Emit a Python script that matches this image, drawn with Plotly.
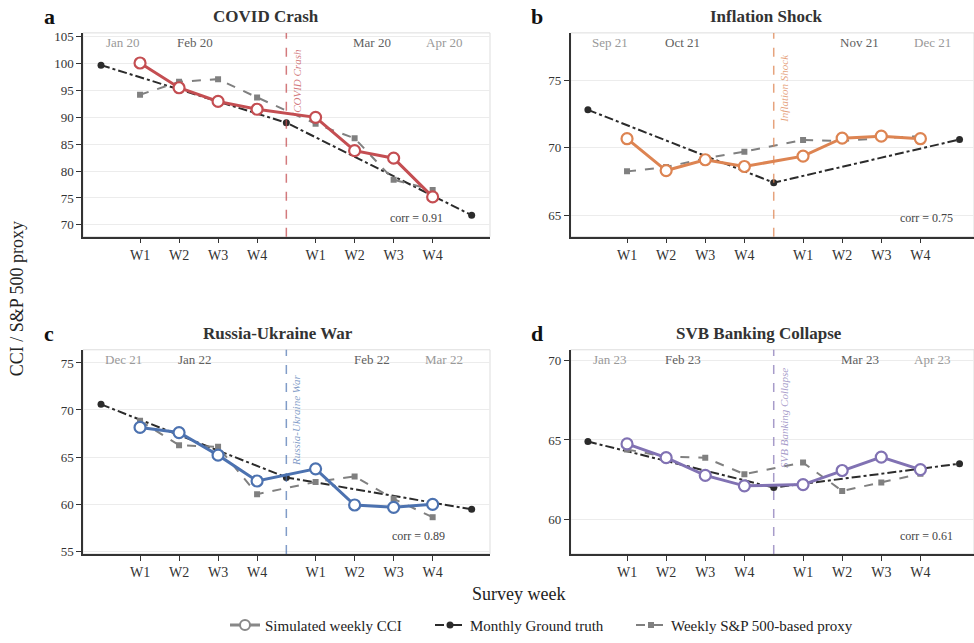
import plotly.graph_objects as go

# ---------------- data ----------------
panel_letters = ["a", "b", "c", "d"]
panel_titles = ["COVID Crash", "Inflation Shock", "Russia-Ukraine War", "SVB Banking Collapse"]
event_labels = ["COVID Crash", "Inflation Shock", "Russia-Ukraine War", "SVB Banking Collapse"]
corr_labels = ["corr = 0.91", "corr = 0.75", "corr = 0.89", "corr = 0.61"]

week_ticktext = ["W1", "W2", "W3", "W4", "W1", "W2", "W3", "W4"]
week_pos = [1, 2, 3, 4, 5.5, 6.5, 7.5, 8.5]
month_pos = [0, 4.75, 9.5]

month_labels_a = ["Jan 20", "Feb 20", "Mar 20", "Apr 20"]
month_labels_b = ["Sep 21", "Oct 21", "Nov 21", "Dec 21"]
month_labels_c = ["Dec 21", "Jan 22", "Feb 22", "Mar 22"]
month_labels_d = ["Jan 23", "Feb 23", "Mar 23", "Apr 23"]

cci_a = [100.1, 95.5, 92.95, 91.5, 90.0, 83.8, 82.4, 75.2]
truth_a = [99.7, 89.0, 71.8]
proxy_a = [94.2, 96.6, 97.1, 93.7, 88.8, 86.1, 78.4, 76.5]

cci_b = [70.66, 68.3, 69.1, 68.6, 69.37, 70.7, 70.85, 70.66]
truth_b = [72.8, 67.4, 70.6]
proxy_b = [68.24, 68.56, 69.2, 69.7, 70.56, 70.5, 70.7, 70.85]

cci_c = [68.15, 67.6, 65.2, 62.45, 63.74, 59.9, 59.65, 59.97]
truth_c = [70.6, 62.83, 59.44]
proxy_c = [68.85, 66.26, 66.08, 61.05, 62.35, 62.94, 60.56, 58.6]

cci_d = [64.75, 63.88, 62.76, 62.1, 62.18, 63.07, 63.92, 63.13]
truth_d = [64.9, 61.99, 63.5]
proxy_d = [64.4, 63.94, 63.88, 62.84, 63.57, 61.78, 62.32, 62.86]

legend_names = ["Simulated weekly CCI", "Monthly Ground truth", "Weekly S&P 500-based proxy"]

# ---------------- style ----------------
FONT = "Liberation Serif"
colors = ["#C44E52", "#DD8452", "#4C72B0", "#8172B3"]
event_colors = ["rgba(196,78,82,0.75)", "rgba(221,132,82,0.75)", "rgba(76,114,176,0.7)", "rgba(129,114,179,0.7)"]
TRUTH_C = "#2b2b2b"
PROXY_C = "#808080"

OFF = 0  # body margin removed below
W, H = 974, 643


def px(p):
    return (p - OFF) / W


def py(p):
    return 1 - (p - OFF) / H


xdom_left = [px(83), px(490)]
xdom_right = [px(570.7), 1.0]
ydom_top = [py(236), py(29.3)]
ydom_bot = [py(557.7), py(350.7)]

panels = [
    dict(cci=cci_a, truth=truth_a, proxy=proxy_a, months=month_labels_a,
         xd=xdom_left, yd=ydom_top, xr=[-0.462, 9.97], yr=[67.8, 105.7], yt=[70, 75, 80, 85, 90, 95, 100, 105]),
    dict(cci=cci_b, truth=truth_b, proxy=proxy_b, months=month_labels_b,
         xd=xdom_right, yd=ydom_top, xr=[-0.44, 9.87], yr=[63.4, 78.5], yt=[65, 70, 75]),
    dict(cci=cci_c, truth=truth_c, proxy=proxy_c, months=month_labels_c,
         xd=xdom_left, yd=ydom_bot, xr=[-0.462, 9.97], yr=[54.7, 76.4], yt=[55, 60, 65, 70, 75]),
    dict(cci=cci_d, truth=truth_d, proxy=proxy_d, months=month_labels_d,
         xd=xdom_right, yd=ydom_bot, xr=[-0.44, 9.87], yr=[57.8, 70.7], yt=[60, 65, 70]),
]
month_label_pos = [0.57, 2.42, 6.95, 8.8]
month_label_colors = ["#999999", "#606060", "#606060", "#999999"]
event_text_top = [0.93, 0.905, 0.887, 0.921]
corr_x = [8.82, 9.39, 8.86, 9.39]
title_px = [266, 766, 277.5, 759]
title_py = [13, 13, 334, 334]
letter_px = [49, 537, 49, 537]
letter_py = [13, 13, 334, 334]

fig = go.Figure()
annotations = []
shapes = []

for i, p in enumerate(panels):
    sfx = "" if i == 0 else str(i + 1)
    xa, ya = "x" + sfx, "y" + sfx
    fig.add_trace(go.Scatter(x=month_pos, y=p["truth"], xaxis=xa, yaxis=ya, mode="lines+markers",
                             line=dict(color=TRUTH_C, width=2, dash="dashdot"),
                             marker=dict(color=TRUTH_C, size=7), showlegend=False, hoverinfo="skip",
                             cliponaxis=False))
    fig.add_trace(go.Scatter(x=week_pos, y=p["proxy"], xaxis=xa, yaxis=ya, mode="lines+markers",
                             line=dict(color=PROXY_C, width=2, dash="dash"),
                             marker=dict(color=PROXY_C, size=6, symbol="square"), showlegend=False, hoverinfo="skip"))
    fig.add_trace(go.Scatter(x=week_pos, y=p["cci"], xaxis=xa, yaxis=ya, mode="lines+markers",
                             line=dict(color=colors[i], width=3),
                             marker=dict(color="white", size=11, line=dict(color=colors[i], width=2.2)),
                             showlegend=False, hoverinfo="skip"))

    xkey = "xaxis" + sfx
    ykey = "yaxis" + sfx
    fig.update_layout(**{
        xkey: dict(domain=p["xd"], range=p["xr"], anchor=ya, tickvals=week_pos, ticktext=week_ticktext,
                   showgrid=False, zeroline=False, showline=True, linecolor="#333", linewidth=1.5,
                   ticks="outside", ticklen=5, tickcolor="#333", tickwidth=1.2,
                   tickfont=dict(family=FONT, size=14, color="#333")),
        ykey: dict(domain=p["yd"], range=p["yr"], anchor=xa, tickvals=p["yt"],
                   showgrid=True, gridcolor="#ececec", gridwidth=1, zeroline=False,
                   showline=True, linecolor="#333", linewidth=1.5,
                   ticks="outside", ticklen=5, tickcolor="#333", tickwidth=1.2,
                   tickfont=dict(family=FONT, size=13, color="#333")),
    })
    shapes.append(dict(type="rect", xref=xa + " domain", yref=ya + " domain", x0=0, x1=1, y0=0, y1=1,
                       line=dict(color="#dddddd", width=1), layer="below"))
    shapes.append(dict(type="line", xref=xa, yref=ya + " domain", x0=month_pos[1], x1=month_pos[1], y0=0, y1=1,
                       line=dict(color=event_colors[i], width=1.5, dash="dash")))
    annotations.append(dict(text="<i>" + event_labels[i] + "</i>", xref=xa, yref=ya + " domain",
                            x=month_pos[1] + 0.06, y=event_text_top[i], xanchor="left", yanchor="top",
                            textangle=-90, showarrow=False,
                            font=dict(family=FONT, size=11, color=event_colors[i])))
    for lbl, mx, mc in zip(p["months"], month_label_pos, month_label_colors):
        annotations.append(dict(text=lbl, xref=xa, yref="paper", x=mx,
                                y=py(39 if i < 2 else 361), xanchor="center", yanchor="middle",
                                showarrow=False, font=dict(family=FONT, size=13, color=mc)))
    annotations.append(dict(text=corr_labels[i], xref=xa, yref=ya + " domain", x=corr_x[i], y=0.09,
                            xanchor="right", yanchor="middle", showarrow=False,
                            font=dict(family=FONT, size=12, color="#444")))
    annotations.append(dict(text="<b>" + panel_titles[i] + "</b>", xref="paper", yref="paper",
                            x=px(title_px[i]), y=py(title_py[i]), xanchor="center", yanchor="middle",
                            showarrow=False, font=dict(family=FONT, size=17, color="#333")))
    annotations.append(dict(text="<b>" + panel_letters[i] + "</b>", xref="paper", yref="paper",
                            x=px(letter_px[i]), y=py(letter_py[i]), xanchor="center", yanchor="middle",
                            showarrow=False, font=dict(family=FONT, size=22, color="#111")))

annotations.append(dict(text="CCI / S&P 500 proxy", xref="paper", yref="paper", x=px(16.5), y=py(299),
                        xanchor="center", yanchor="middle", textangle=-90, showarrow=False,
                        font=dict(family=FONT, size=18, color="#222")))
annotations.append(dict(text="Survey week", xref="paper", yref="paper", x=px(518), y=py(598),
                        xanchor="center", yanchor="middle", showarrow=False,
                        font=dict(family=FONT, size=18, color="#222")))

fig.add_trace(go.Scatter(x=[None], y=[None], mode="lines+markers", name=legend_names[0], legend="legend",
                         line=dict(color="#888888", width=3),
                         marker=dict(color="white", size=10, line=dict(color="#888888", width=2))))
fig.add_trace(go.Scatter(x=[None], y=[None], mode="lines+markers", name=legend_names[1], legend="legend2",
                         line=dict(color=TRUTH_C, width=2, dash="dashdot"), marker=dict(color=TRUTH_C, size=7)))
fig.add_trace(go.Scatter(x=[None], y=[None], mode="lines+markers", name=legend_names[2], legend="legend3",
                         line=dict(color=PROXY_C, width=2, dash="dash"),
                         marker=dict(color=PROXY_C, size=6, symbol="square")))

leg_common = dict(orientation="h", y=py(630), xanchor="left", yanchor="middle",
                  font=dict(family=FONT, size=15, color="#222"), bgcolor="rgba(0,0,0,0)")

fig.update_layout(
    width=W, height=H, autosize=False,
    margin=dict(l=0, r=0, t=0, b=0),
    paper_bgcolor="white", plot_bgcolor="white",
    font=dict(family=FONT, color="#333"),
    showlegend=True,
    legend=dict(x=px(225), **leg_common),
    legend2=dict(x=px(430), **leg_common),
    legend3=dict(x=px(631), **leg_common),
    annotations=annotations,
    shapes=shapes,
)

fig.write_html("out.html", config={"displayModeBar": False},
               post_script="document.body.style.margin='0px';")
